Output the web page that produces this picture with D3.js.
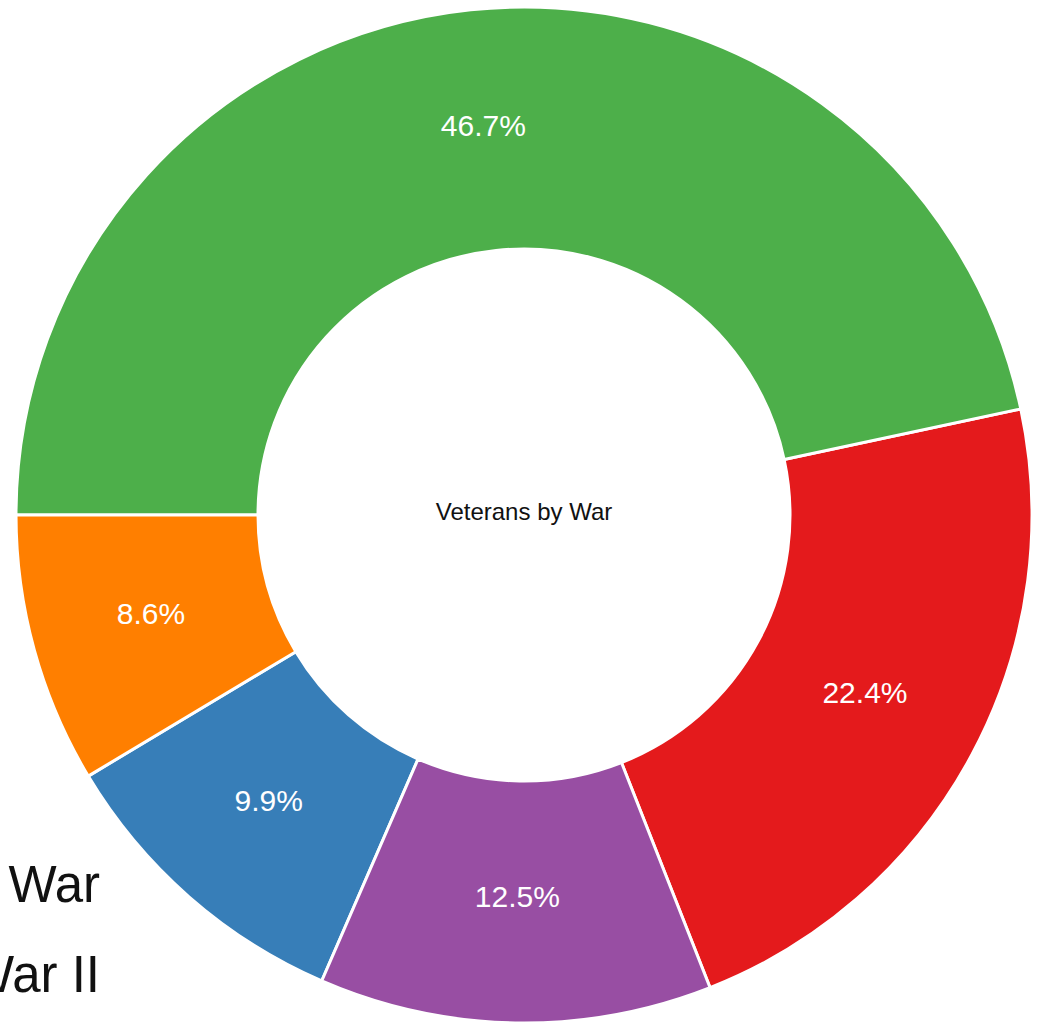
<!DOCTYPE html>
<html>
<head>
<meta charset="utf-8">
<script src="https://cdn.jsdelivr.net/npm/d3@7"></script>
<style>
  html, body { margin: 0; padding: 0; background: #fff; overflow: hidden; }
  svg { display: block; font-family: "Liberation Sans", Arial, Helvetica, sans-serif; }
  .slice { stroke: #fff; stroke-width: 3px; }
  .pct { fill: #fff; font-size: 30px; text-anchor: middle; }
  .title { fill: #111; font-size: 24px; text-anchor: middle; }
  .legend text { fill: #111; font-size: 51px; text-anchor: end; }
</style>
</head>
<body>
<div id="chart"></div>
<script>
// ── Data ──────────────────────────────────────────────
const categories = ['Korean War', 'World War II', 'Gulf War', 'Vietnam War', 'Peacetime'];
const shares = [22.4, 9.9, 46.7, 12.5, 8.6];
const chartTitle = 'Veterans by War';

// ── Layout ────────────────────────────────────────────
const WIDTH = 1038;
const HEIGHT = 1028;
const CENTER = {x: 524, y: 515};
const OUTER_RADIUS = 508;
const INNER_RADIUS = 266;
const LEGEND = {right: 100, firstBaseline: 902, step: 90};

const rows = categories.map((name, i) => ({name, value: shares[i]}));

const color = d3.scaleOrdinal()
  .domain(categories)
  .range(d3.schemeSet1);

const svg = d3.select('#chart')
  .append('svg')
  .attr('width', WIDTH)
  .attr('height', HEIGHT);

// legend sits underneath the ring, so draw it first
const legend = svg.append('g').attr('class', 'legend');
legend.selectAll('text')
  .data(rows)
  .join('text')
  .attr('x', LEGEND.right)
  .attr('y', (d, i) => LEGEND.firstBaseline + i * LEGEND.step)
  .text((d) => d.name);

const pie = d3.pie()
  .value((d) => d.value)
  .startAngle(-Math.PI / 2)
  .endAngle(Math.PI * 1.5);

const arc = d3.arc()
  .innerRadius(INNER_RADIUS)
  .outerRadius(OUTER_RADIUS);

const ring = svg.append('g')
  .attr('transform', `translate(${CENTER.x},${CENTER.y})`);

const arcs = pie(rows);

ring.selectAll('path')
  .data(arcs)
  .join('path')
  .attr('class', 'slice')
  .attr('fill', (d) => color(d.data.name))
  .attr('d', arc);

ring.selectAll('.pct')
  .data(arcs)
  .join('text')
  .attr('class', 'pct')
  .attr('transform', (d) => `translate(${arc.centroid(d)})`)
  .attr('dy', '0.18em')
  .text((d) => `${d.data.value.toFixed(1)}%`);

ring.append('text')
  .attr('class', 'title')
  .attr('dy', '0.22em')
  .text(chartTitle);
</script>
</body>
</html>
